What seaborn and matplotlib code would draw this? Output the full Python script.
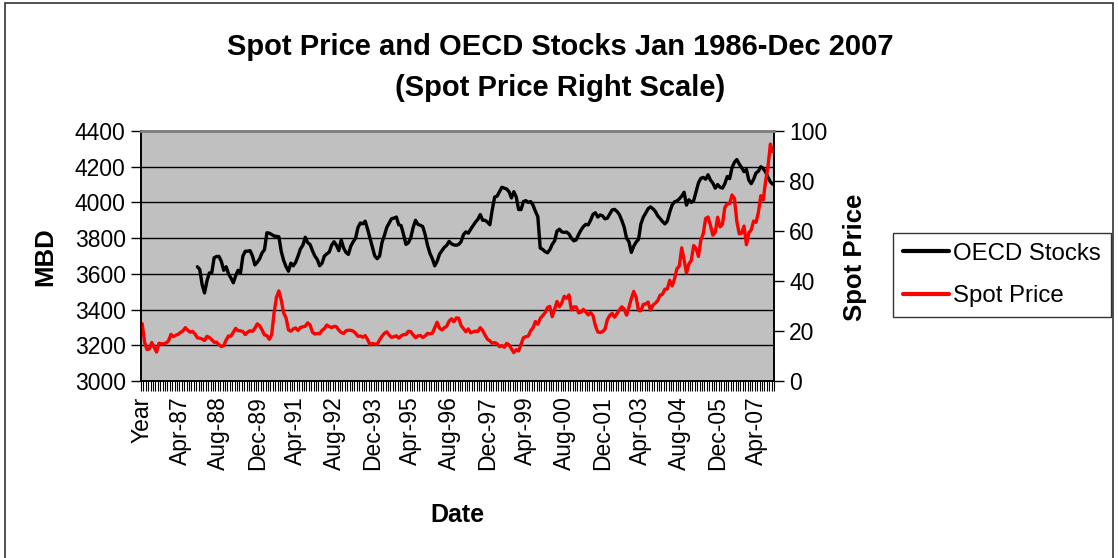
import numpy as np
import pandas as pd
import matplotlib
matplotlib.use("Agg")
import matplotlib.pyplot as plt
import seaborn as sns
from matplotlib.patches import Rectangle
from matplotlib.lines import Line2D
from matplotlib.ticker import FixedLocator

# ---------------- data ----------------
months = pd.date_range("1986-01-01", "2007-12-01", freq="MS")
category_labels = ["Year"] + [d.strftime("%b-%y") for d in months[:-1]]
label_step = 16

spot_price = [
    22.93, 15.46, 12.61, 12.84, 15.38, 13.43, 11.59, 15.10, 14.87, 14.90, 15.22, 16.11,
    18.65, 17.75, 18.30, 18.68, 19.44, 20.07, 21.34, 20.31, 19.53, 19.86, 18.85, 17.28,
    17.13, 16.80, 16.20, 17.86, 17.42, 16.53, 15.50, 15.52, 14.54, 13.77, 14.14, 16.38,
    18.02, 17.94, 19.48, 21.07, 20.12, 20.05, 19.78, 18.58, 19.59, 20.10, 19.86, 21.10,
    22.86, 22.11, 20.39, 18.43, 18.20, 16.70, 18.45, 27.31, 33.51, 36.04, 32.33, 27.28,
    25.23, 20.48, 19.90, 20.83, 21.23, 20.19, 21.40, 21.69, 21.89, 23.23, 22.46, 19.50,
    18.79, 19.01, 18.92, 20.23, 20.98, 22.39, 21.78, 21.34, 21.88, 21.69, 20.34, 19.41,
    19.03, 20.09, 20.32, 20.25, 19.95, 19.09, 17.89, 18.01, 17.50, 18.15, 16.61, 14.52,
    15.03, 14.78, 14.68, 16.42, 17.89, 19.06, 19.66, 18.38, 17.45, 17.72, 18.07, 17.16,
    18.04, 18.57, 18.54, 19.90, 19.74, 18.45, 17.33, 18.02, 18.23, 17.43, 17.99, 19.03,
    18.86, 19.09, 21.33, 23.50, 21.17, 20.42, 21.30, 21.90, 23.97, 24.88, 23.71, 25.23,
    25.13, 22.18, 20.97, 19.70, 20.82, 19.26, 19.66, 19.95, 19.80, 21.33, 20.19, 18.33,
    16.72, 16.06, 15.12, 15.35, 14.91, 13.72, 14.17, 13.47, 15.03, 14.46, 12.86, 11.35,
    12.52, 12.01, 14.68, 17.31, 17.72, 17.92, 20.10, 21.28, 23.80, 22.69, 25.00, 26.10,
    27.26, 29.37, 29.84, 25.72, 28.79, 31.82, 29.70, 31.26, 33.88, 33.11, 34.42, 28.44,
    29.59, 29.61, 27.25, 27.49, 28.63, 27.60, 26.43, 27.37, 26.20, 22.17, 19.64, 19.39,
    19.72, 20.72, 24.53, 26.18, 27.04, 25.52, 26.97, 28.39, 29.66, 28.84, 26.35, 29.46,
    32.95, 35.83, 33.51, 28.17, 28.11, 30.66, 30.76, 31.57, 28.31, 30.34, 31.11, 32.13,
    34.31, 34.69, 36.74, 36.75, 40.28, 38.03, 40.78, 44.90, 45.94, 53.28, 48.47, 43.15,
    46.84, 48.15, 54.19, 52.98, 49.83, 56.35, 59.00, 64.99, 65.59, 62.26, 58.32, 59.41,
    65.49, 61.63, 62.69, 69.44, 70.84, 70.95, 74.41, 73.04, 63.80, 58.89, 59.08, 61.96,
    54.51, 59.28, 60.44, 63.98, 63.46, 67.49, 74.12, 72.36, 79.92, 85.80, 94.77, 91.69,
]

oecd_stocks = [np.nan] * 23 + [
    3640, 3625, 3540, 3493, 3560, 3605, 3605, 3690, 3697, 3698, 3670, 3620,
    3640, 3600, 3577, 3550, 3590, 3620, 3605, 3700, 3727, 3727, 3730, 3700,
    3650, 3665, 3685, 3718, 3735, 3830, 3828, 3820, 3812, 3810, 3808, 3725,
    3675, 3640, 3615, 3660, 3645, 3665, 3700, 3740, 3760, 3805, 3775, 3765,
    3730, 3700, 3681, 3645, 3660, 3700, 3712, 3722, 3760, 3780, 3760, 3730,
    3790, 3745, 3720, 3709, 3755, 3780, 3800, 3860, 3885, 3880, 3895, 3850,
    3800, 3750, 3700, 3685, 3700, 3775, 3815, 3860, 3885, 3909, 3912, 3918,
    3875, 3870, 3820, 3765, 3774, 3802, 3860, 3900, 3877, 3872, 3865, 3820,
    3760, 3715, 3685, 3645, 3670, 3710, 3730, 3748, 3760, 3782, 3768, 3762,
    3760, 3765,
    3780, 3820, 3835, 3828, 3850, 3870, 3890, 3906, 3932, 3900, 3900, 3890,
    3875, 3960, 4030, 4035, 4060, 4085, 4080, 4075, 4060, 4025, 4060, 4030,
    3960, 3960, 4005, 4010, 4000, 4005, 3985, 3950, 3920, 3745, 3737, 3725,
    3718, 3735, 3765, 3785, 3840, 3850, 3835, 3832, 3834, 3823, 3800, 3785,
    3790, 3820, 3845, 3865, 3877, 3874, 3900, 3933, 3942, 3918, 3930, 3925,
    3908, 3912, 3935, 3958, 3961, 3950, 3932, 3900, 3862, 3800, 3780, 3720,
    3755, 3778, 3793, 3880, 3918, 3940, 3965, 3975, 3965, 3950, 3925, 3910,
    3893, 3880, 3895, 3945, 3985, 4003, 4008, 4020, 4035, 4057, 3985, 4015,
    4000, 4010, 4060, 4110, 4135, 4140, 4130, 4155, 4125, 4108, 4080, 4100,
    4085, 4080, 4105, 4145, 4133, 4195, 4225, 4240, 4215, 4195, 4172, 4185,
    4125, 4105, 4130, 4165, 4175, 4200, 4190, 4170, 4140, 4115, 4102,
]

df = pd.DataFrame({
    "pos": np.arange(len(category_labels)),
    "label": category_labels,
    "OECD Stocks": oecd_stocks,
    "Spot Price": spot_price,
})

# ---------------- figure ----------------
sns.set_theme(style="white")
plt.rcParams["font.family"] = ["Liberation Sans", "DejaVu Sans"]
plt.rcParams["text.color"] = "black"
plt.rcParams["xtick.color"] = "black"
plt.rcParams["ytick.color"] = "black"
plt.rcParams["axes.labelcolor"] = "black"

W, H = 1118, 558
fig = plt.figure(figsize=(W / 100, H / 100), dpi=100)
fig.patch.set_facecolor("white")

# outer chart border
fig.patches.append(Rectangle((5 / W, -0.05), (1113 - 5) / W, 0.05 + (H - 3) / H,
                             transform=fig.transFigure, fill=False,
                             edgecolor="#333333", linewidth=1.2, zorder=0))

L, R, T, B = 141, 774, 131, 381
ax = fig.add_axes([L / W, 1 - B / H, (R - L) / W, (B - T) / H])
ax.set_facecolor("#C0C0C0")
ax2 = ax.twinx()

sns.lineplot(data=df, x="pos", y="OECD Stocks", ax=ax, color="black",
             linewidth=2.4, legend=False)
sns.lineplot(data=df, x="pos", y="Spot Price", ax=ax2, color="#FF0000",
             linewidth=2.4, legend=False)

n = len(category_labels)
ax.set_xlim(-0.5, n - 0.5)
ax.set_ylim(3000, 4400)
ax2.set_ylim(0, 100)
ax.set_yticks(np.arange(3000, 4401, 200))
ax2.set_yticks(np.arange(0, 101, 20))

major = list(range(0, n, label_step))
ax.xaxis.set_major_locator(FixedLocator(major))
ax.set_xticklabels([category_labels[i] for i in major], rotation=90, fontsize=16.5)
ax.xaxis.set_minor_locator(FixedLocator(np.arange(-0.5, n, 1.0)))
ax.tick_params(axis="x", which="major", length=0, pad=11, labelcolor="black")
ax.tick_params(axis="x", which="minor", length=7, width=0.8, color="black",
               direction="out", bottom=True)
ax.tick_params(axis="y", which="major", length=7, width=1, color="black",
               direction="out", left=True, labelsize=16.5, pad=4, labelcolor="black")
ax2.tick_params(axis="y", which="major", length=7, width=1, color="black",
                direction="out", right=True, labelsize=16.5, pad=4, labelcolor="black")

ax.yaxis.grid(True, color="black", linewidth=1.0)
ax.xaxis.grid(False)
ax.set_axisbelow(True)
ax.set_xlabel("")
ax.set_ylabel("")
ax2.set_ylabel("")

for a in (ax, ax2):
    for s in a.spines.values():
        s.set_visible(True)
        s.set_color("black")
        s.set_linewidth(1.2)
    a.spines["top"].set_color("#808080")
    a.spines["top"].set_linewidth(2)

# ---------------- texts ----------------
fig.text(560 / W, 1 - 47 / H, "Spot Price and OECD Stocks Jan 1986-Dec 2007",
         ha="center", va="center", fontsize=21, fontweight="bold", color="black")
fig.text(560 / W, 1 - 88 / H, "(Spot Price Right Scale)",
         ha="center", va="center", fontsize=21, fontweight="bold", color="black")
fig.text(45 / W, 1 - 257 / H, "MBD", rotation=90, ha="center", va="center",
         fontsize=18.5, fontweight="bold", color="black")
fig.text(855 / W, 1 - 257 / H, "Spot Price", rotation=90, ha="center", va="center",
         fontsize=18.5, fontweight="bold", color="black")
fig.text(457 / W, 1 - 515 / H, "Date", ha="center", va="center",
         fontsize=18, fontweight="bold", color="black")

handles = [Line2D([], [], color="black", linewidth=3),
           Line2D([], [], color="#FF0000", linewidth=3)]
leg = fig.legend(handles, ["OECD Stocks", "Spot Price"], loc="center",
                 bbox_to_anchor=(1002 / W, 1 - 275 / H), frameon=True,
                 fancybox=False, edgecolor="black", fontsize=17.3,
                 handlelength=1.9, handletextpad=0.2, borderpad=0.4,
                 labelspacing=0.85, borderaxespad=0, labelcolor="black")
leg.get_frame().set_linewidth(1.0)

fig.savefig("out.png", dpi=100, facecolor="white")
